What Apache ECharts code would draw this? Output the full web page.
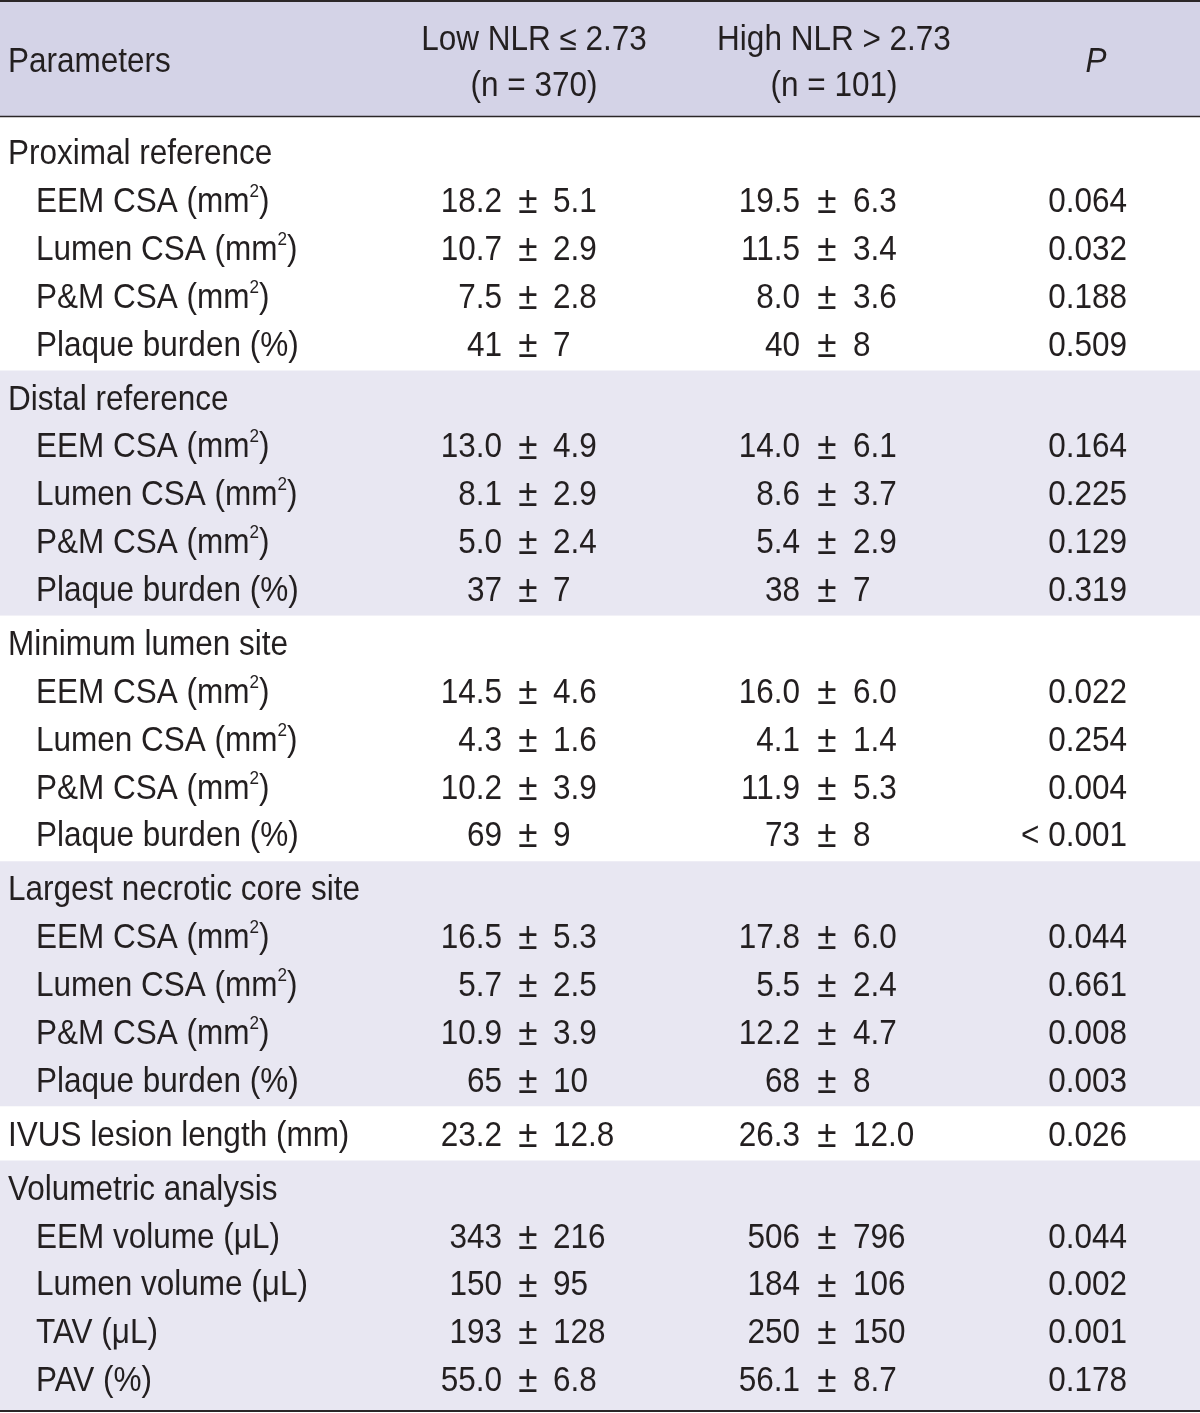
<!DOCTYPE html>
<html>
<head>
<meta charset="utf-8">
<script src="https://cdn.jsdelivr.net/npm/echarts@6/dist/echarts.min.js"></script>
<style>
  html, body { margin: 0; padding: 0; background: #fff; }
  #chart { width: 1200px; height: 1413px; }
</style>
</head>
<body>
<div id="chart"></div>
<script>
// table content
const headerTexts = ['Parameters', 'Low NLR ≤ 2.73', '(n = 370)', 'High NLR > 2.73', '(n = 101)', 'P'];
const rowLabels = [
  'Proximal reference', 'EEM CSA (mm²)', 'Lumen CSA (mm²)', 'P&M CSA (mm²)', 'Plaque burden (%)',
  'Distal reference', 'EEM CSA (mm²)', 'Lumen CSA (mm²)', 'P&M CSA (mm²)', 'Plaque burden (%)',
  'Minimum lumen site', 'EEM CSA (mm²)', 'Lumen CSA (mm²)', 'P&M CSA (mm²)', 'Plaque burden (%)',
  'Largest necrotic core site', 'EEM CSA (mm²)', 'Lumen CSA (mm²)', 'P&M CSA (mm²)', 'Plaque burden (%)',
  'IVUS lesion length (mm)',
  'Volumetric analysis', 'EEM volume (μL)', 'Lumen volume (μL)', 'TAV (μL)', 'PAV (%)'
];
const rowSection = [0,0,0,0,0, 1,1,1,1,1, 2,2,2,2,2, 3,3,3,3,3, 4, 5,5,5,5,5];
const rowIndent  = [0,1,1,1,1, 0,1,1,1,1, 0,1,1,1,1, 0,1,1,1,1, 0, 0,1,1,1,1];
const lowMean  = ['', '18.2', '10.7', '7.5', '41', '', '13.0', '8.1', '5.0', '37', '', '14.5', '4.3', '10.2', '69', '', '16.5', '5.7', '10.9', '65', '23.2', '', '343', '150', '193', '55.0'];
const lowSd    = ['', '5.1', '2.9', '2.8', '7', '', '4.9', '2.9', '2.4', '7', '', '4.6', '1.6', '3.9', '9', '', '5.3', '2.5', '3.9', '10', '12.8', '', '216', '95', '128', '6.8'];
const highMean = ['', '19.5', '11.5', '8.0', '40', '', '14.0', '8.6', '5.4', '38', '', '16.0', '4.1', '11.9', '73', '', '17.8', '5.5', '12.2', '68', '26.3', '', '506', '184', '250', '56.1'];
const highSd   = ['', '6.3', '3.4', '3.6', '8', '', '6.1', '3.7', '2.9', '7', '', '6.0', '1.4', '5.3', '8', '', '6.0', '2.4', '4.7', '8', '12.0', '', '796', '106', '150', '8.7'];
const pValues  = ['', '0.064', '0.032', '0.188', '0.509', '', '0.164', '0.225', '0.129', '0.319', '', '0.022', '0.254', '0.004', '< 0.001', '', '0.044', '0.661', '0.008', '0.003', '0.026', '', '0.044', '0.002', '0.001', '0.178'];

// layout (axis units: x = pixels across, y = row slots)
const SECTION_GAP = 0.1285;
const Y_MIN = -3.1766, Y_MAX = 26.353;
const HEADER_BOTTOM = -0.742, RULE_TOP = -3.156, RULE_BOTTOM = 26.31;
const HEAD_LINE1 = -2.38, HEAD_LINE2 = -1.43, HEAD_MID = -1.92;
const COL = { label: 8, indent: 36, low: 528, high: 827, p: 1127, headLow: 534, headHigh: 834, headP: 1096 };
const INK = '#231f20';
const FONT = "'Liberation Sans', Arial, sans-serif";
const FS = 35, SX = 0.9, TEXT_DY = 2.5;

const rowPos = i => i + rowSection[i] * SECTION_GAP;

const sections = [];
rowSection.forEach((s, i) => {
  if (!sections[s]) sections[s] = { first: rowPos(i), last: rowPos(i) };
  sections[s].last = rowPos(i);
});
const bandData = sections.map((sec, s) => [
  s,
  s === 0 ? HEADER_BOTTOM : sec.first - 0.5 - SECTION_GAP / 2,
  s === sections.length - 1 ? RULE_BOTTOM : sec.last + 0.5 + SECTION_GAP / 2
]);
bandData.unshift([-1, Y_MIN, HEADER_BOTTOM]);

const rich = {
  t: { fontSize: FS, fontFamily: FONT, fill: INK, lineHeight: 40 },
  s: { fontSize: 19, fontFamily: FONT, fill: INK, lineHeight: 19, verticalAlign: 'top' }
};

function txt(pt, text, align, extra) {
  let style = { text: text, fill: INK, fontSize: FS, fontFamily: FONT, align: align, verticalAlign: 'middle' };
  if (text.indexOf('²') >= 0) {
    const parts = text.split('²');
    style.text = '{t|' + parts[0] + '}{s|2}{t|' + parts[1] + '}';
    style.rich = rich;
    style.lineHeight = 40;
  }
  return { type: 'text', x: pt[0], y: pt[1] + TEXT_DY, scaleX: SX, style: Object.assign(style, extra || {}) };
}

const chart = echarts.init(document.getElementById('chart'));
chart.setOption({
  animation: false,
  grid: { left: 0, right: 0, top: 0, bottom: 0 },
  xAxis: { type: 'value', min: 0, max: 1200, show: false },
  yAxis: { type: 'value', min: Y_MIN, max: Y_MAX, inverse: true, show: false },
  series: [
    {
      type: 'custom',
      silent: true,
      z: 1,
      data: bandData,
      renderItem: (params, api) => {
        const s = api.value(0);
        const a = api.coord([0, api.value(1)]);
        const b = api.coord([1200, api.value(2)]);
        const fill = s < 0 ? '#d4d3e7' : (s % 2 === 1 ? '#e8e7f2' : '#ffffff');
        return { type: 'rect', shape: { x: a[0], y: a[1], width: b[0] - a[0], height: b[1] - a[1] }, style: { fill: fill } };
      }
    },
    {
      type: 'custom',
      silent: true,
      z: 3,
      data: [[RULE_TOP, 2], [HEADER_BOTTOM, 1.6], [RULE_BOTTOM, 2]],
      renderItem: (params, api) => {
        const a = api.coord([0, api.value(0)]);
        const b = api.coord([1200, api.value(0)]);
        return { type: 'line', shape: { x1: a[0], y1: a[1], x2: b[0], y2: b[1] }, style: { stroke: '#2b2728', lineWidth: api.value(1) } };
      }
    },
    {
      type: 'custom',
      silent: true,
      z: 4,
      data: [[0, HEAD_MID]],
      renderItem: (params, api) => {
        const c = (x, y) => api.coord([x, y]);
        return {
          type: 'group',
          children: [
            txt(c(COL.label, HEAD_MID), headerTexts[0], 'left'),
            txt(c(COL.headLow, HEAD_LINE1), headerTexts[1], 'center'),
            txt(c(COL.headLow, HEAD_LINE2), headerTexts[2], 'center'),
            txt(c(COL.headHigh, HEAD_LINE1), headerTexts[3], 'center'),
            txt(c(COL.headHigh, HEAD_LINE2), headerTexts[4], 'center'),
            txt(c(COL.headP, HEAD_MID), headerTexts[5], 'center', { fontStyle: 'italic' })
          ]
        };
      }
    },
    {
      type: 'custom',
      silent: true,
      z: 4,
      data: rowLabels.map((_, i) => [0, rowPos(i)]),
      renderItem: (params, api) => {
        const i = params.dataIndex;
        const y = api.value(1);
        const c = x => api.coord([x, y]);
        const pm = { fontSize: 39 };
        const kids = [txt(c(rowIndent[i] ? COL.indent : COL.label), rowLabels[i], 'left')];
        if (lowMean[i]) {
          kids.push(txt(c(COL.low - 26), lowMean[i], 'right'));
          kids.push(txt(c(COL.low), '±', 'center', pm));
          kids.push(txt(c(COL.low + 25), lowSd[i], 'left'));
          kids.push(txt(c(COL.high - 27), highMean[i], 'right'));
          kids.push(txt(c(COL.high), '±', 'center', pm));
          kids.push(txt(c(COL.high + 26), highSd[i], 'left'));
          kids.push(txt(c(COL.p), pValues[i], 'right'));
        }
        return { type: 'group', children: kids };
      }
    }
  ]
});
</script>
</body>
</html>
